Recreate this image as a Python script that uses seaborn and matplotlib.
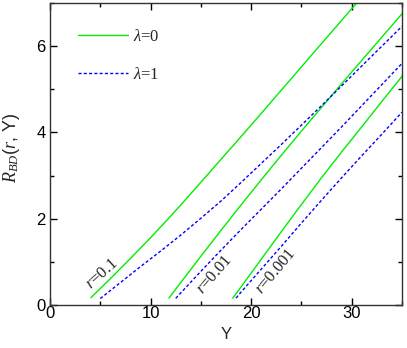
import numpy as np
import pandas as pd
import seaborn as sns
import matplotlib.pyplot as plt

# curves: lambda=0 (solid green), lambda=1 (dashed blue)
y_g01 = [4.07, 6, 8, 10, 12, 14, 16, 18, 20, 22, 24, 26, 28, 30.5]
r_g01 = [0.17, 0.61, 1.08, 1.56, 2.06, 2.58, 3.11, 3.64, 4.17, 4.71, 5.25, 5.79, 6.33, 7.0]
y_b01 = [5, 7, 9, 11, 13, 15, 17, 19, 21, 23, 25, 27, 29, 31, 33, 35]
r_b01 = [0.15, 0.52, 0.89, 1.25, 1.62, 2.01, 2.41, 2.84, 3.28, 3.72, 4.17, 4.62, 5.08, 5.54, 6.0, 6.46]

y_g001 = [11.83, 13, 15, 17, 19, 21, 23, 25, 27, 29, 31, 33, 35]
r_g001 = [0.16, 0.52, 1.13, 1.73, 2.32, 2.9, 3.47, 4.03, 4.58, 5.13, 5.67, 6.21, 6.75]
y_b001 = [12.5, 13, 15, 17, 19, 21, 23, 25, 27, 29, 31, 33, 35]
r_b001 = [0.155, 0.28, 0.78, 1.27, 1.75, 2.22, 2.69, 3.17, 3.65, 4.13, 4.62, 5.11, 5.6]

y_g0001 = [18.17, 19, 21, 23, 25, 27, 29, 31, 33, 35]
r_g0001 = [0.16, 0.42, 1.06, 1.70, 2.33, 2.95, 3.55, 4.13, 4.72, 5.3]
y_b0001 = [18.5, 19, 21, 23, 25, 27, 29, 31, 33, 35]
r_b0001 = [0.16, 0.30, 0.83, 1.36, 1.90, 2.43, 2.95, 3.46, 3.96, 4.47]

sns.set_style('ticks')
plt.rcParams['font.family'] = ['Liberation Sans', 'DejaVu Sans']
plt.rcParams['mathtext.fontset'] = 'custom'
plt.rcParams['mathtext.rm'] = 'Liberation Sans'
plt.rcParams['mathtext.it'] = 'Liberation Serif:italic'

fig = plt.figure(figsize=(4.07, 3.48), dpi=100)
ax = fig.add_axes([50 / 407, 43 / 348, 352 / 407, 302 / 348])

green = '#00ee00'
blue = '#0000ff'
curves = [
    (y_g01, r_g01, green, '-', r'$\lambda$=0'),
    (y_g001, r_g001, green, '-', None),
    (y_g0001, r_g0001, green, '-', None),
    (y_b01, r_b01, blue, '--', r'$\lambda$=1'),
    (y_b001, r_b001, blue, '--', None),
    (y_b0001, r_b0001, blue, '--', None),
]
for xs, ys, c, ls, lab in curves:
    sns.lineplot(x=xs, y=ys, color=c, linewidth=1.0, ax=ax, label=lab, sort=False)
    if ls == '--':
        ax.lines[-1].set_dashes((2.2, 1.6))

ax.set_xlim(0, 35)
ax.set_ylim(0, 7)
ax.set_xticks([0, 10, 20, 30])
ax.set_xticks([5, 15, 25, 35], minor=True)
ax.set_yticks([0, 2, 4, 6])
ax.set_yticks([1, 3, 5, 7], minor=True)
ax.tick_params(which='both', direction='in', top=True, right=True, width=1,
               labelsize=12, colors='black')
ax.tick_params(axis='x', pad=1)
ax.tick_params(axis='y', pad=3)
ax.tick_params(which='major', length=5)
ax.tick_params(which='minor', length=3)
for s in ax.spines.values():
    s.set_linewidth(1)
    s.set_color('#333333')

ax.set_xlabel('Y', fontsize=12, labelpad=4)
ax.set_ylabel(r'$R_{BD}(r,\,$Y)', fontsize=13)
ax.yaxis.set_label_coords(-0.08, 0.52)

serif = ['Liberation Serif', 'DejaVu Serif']
ax.text(5.2, 0.71, r'$r$=0.1', rotation=42, fontsize=12, family=serif,
        ha='center', va='center', rotation_mode='anchor')
ax.text(16.4, 0.70, r'$r$=0.01', rotation=49, fontsize=12, family=serif,
        ha='center', va='center', rotation_mode='anchor')
ax.text(22.5, 0.78, r'$r$=0.001', rotation=50, fontsize=12, family=serif,
        ha='center', va='center', rotation_mode='anchor')

ax.legend(loc='upper left', frameon=False, handlelength=3.0, handletextpad=0.3,
          labelspacing=1.3, bbox_to_anchor=(0.06, 0.935), borderaxespad=0,
          prop={'family': serif, 'size': 12})

fig.savefig('out.png', dpi=100)
